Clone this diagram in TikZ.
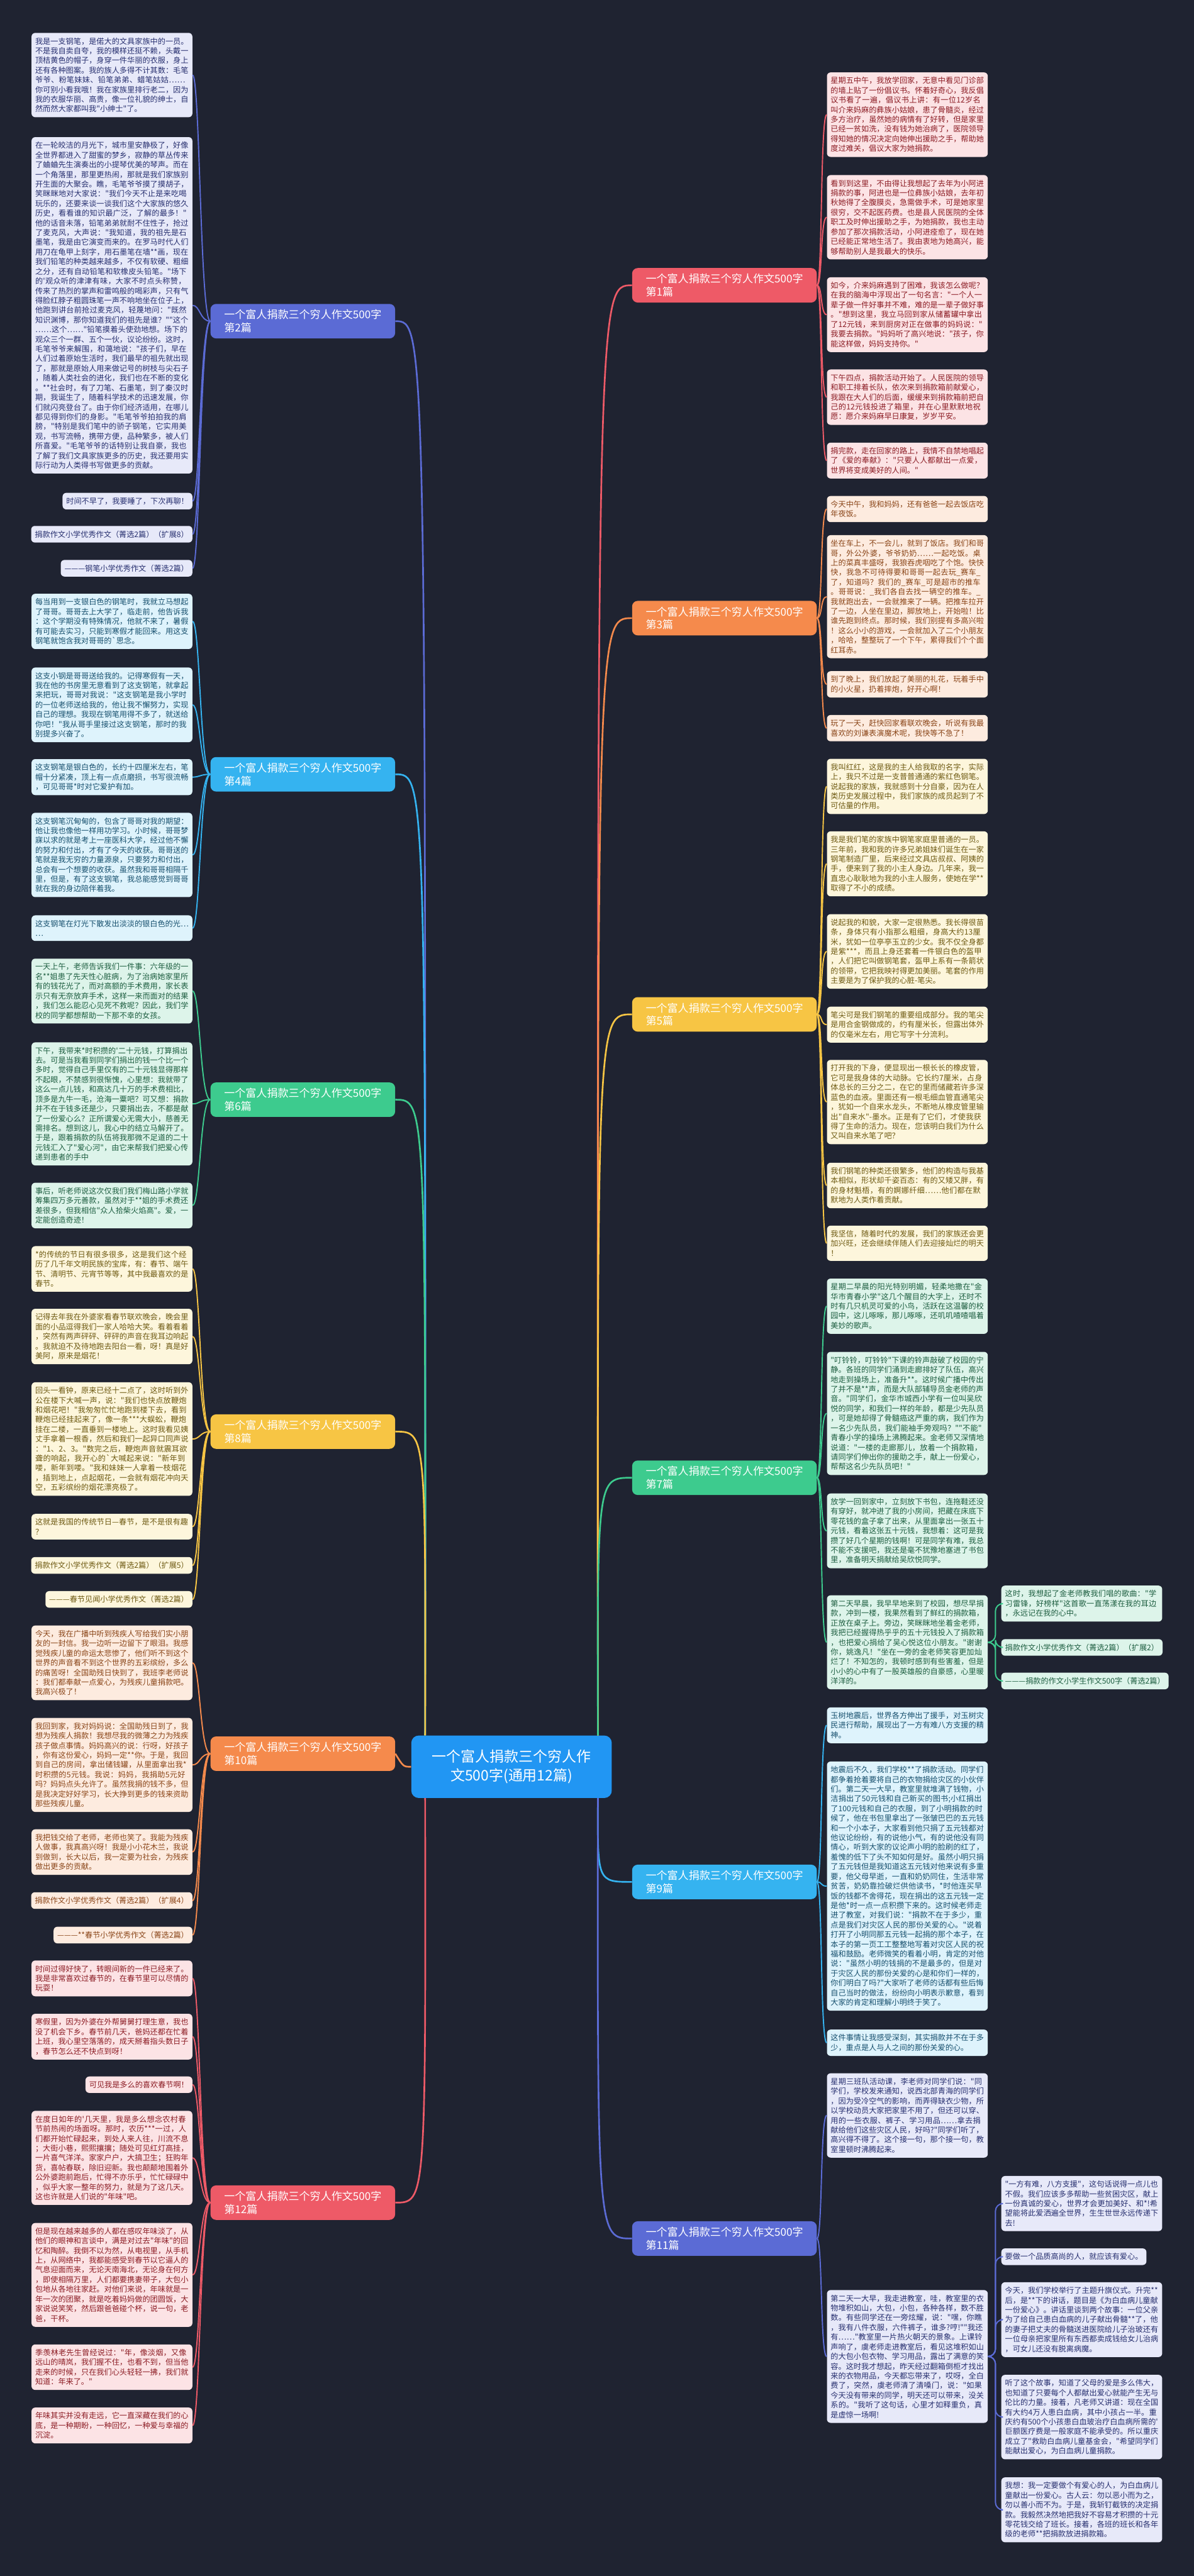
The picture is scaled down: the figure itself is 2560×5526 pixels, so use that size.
\documentclass[tikz,border=0pt]{standalone}
\usepackage{fontspec}
\setmainfont{Noto Sans CJK SC}[Ligatures=TeXOff]
% break between any two CJK characters, punctuation included
\XeTeXinterchartokenstate=1
\count255="2010
\loop
  \XeTeXcharclass\count255=10
  \ifnum\count255<"2027 \advance\count255 by 1 \repeat
\count255="3000
\loop
  \XeTeXcharclass\count255=10
  \ifnum\count255<"9FFF \advance\count255 by 1 \repeat
\count255="FF00
\loop
  \XeTeXcharclass\count255=10
  \ifnum\count255<"FFEF \advance\count255 by 1 \repeat
\XeTeXinterchartoks 10 10 = {\hskip0pt plus 1pt\relax}
\XeTeXinterchartoks 10 0 = {\hskip0pt plus 1pt\relax}
\XeTeXinterchartoks 0 10 = {\hskip0pt plus 1pt\relax}
\definecolor{bgdark}{HTML}{1F2331}
\definecolor{rootblue}{HTML}{2196F3}
\definecolor{redb}{HTML}{EE5A67}
\definecolor{violetb}{HTML}{5B6BD5}
\definecolor{orangeb}{HTML}{F58A4C}
\definecolor{cyanb}{HTML}{35B3F0}
\definecolor{yellowb}{HTML}{F7C544}
\definecolor{greenb}{HTML}{3DCB8E}
\definecolor{redf}{HTML}{FCE3E5}
\definecolor{violetf}{HTML}{E7E9F9}
\definecolor{orangef}{HTML}{FDEBDF}
\definecolor{cyanf}{HTML}{DEF3FC}
\definecolor{yellowf}{HTML}{FDF6DC}
\definecolor{greenf}{HTML}{DDF4EA}
\definecolor{redt}{HTML}{8C1C24}
\definecolor{violett}{HTML}{283070}
\definecolor{oranget}{HTML}{8A4518}
\definecolor{cyant}{HTML}{17506E}
\definecolor{yellowt}{HTML}{6E5A12}
\definecolor{greent}{HTML}{1D5E40}

\begin{document}
\begin{tikzpicture}[
  x=0.5pt, y=-0.5pt,
  box/.style={rounded corners=4pt, inner xsep=4pt, inner ysep=5pt, align=left,
              font=\fontsize{8.2pt}{10.4pt}\selectfont},
  para/.style={box, text width=164.5pt},
  redbox/.style={fill=redf, text=redt},
  violetbox/.style={fill=violetf, text=violett},
  orangebox/.style={fill=orangef, text=oranget},
  cyanbox/.style={fill=cyanf, text=cyant},
  yellowbox/.style={fill=yellowf, text=yellowt},
  greenbox/.style={fill=greenf, text=greent},
  branch/.style={rounded corners=6pt, text=white, inner xsep=8pt, minimum width=198pt,
                 minimum height=37pt, align=left, font=\fontsize{11.5pt}{14pt}\selectfont},
  link/.style={line width=1.3pt},
  trunk/.style={line width=1.8pt}
]
  \useasboundingbox (0,0) rectangle (2560,5526);
  \fill[bgdark] (0,0) rectangle (2560,5526);

  % root
  \node[fill=rootblue, text=white, rounded corners=8pt, minimum width=215pt, minimum height=67pt,
        align=center, font=\fontsize{15.5pt}{20pt}\selectfont] (root) at (1097,3790)
        {一个富人捐款三个穷人作\\文500字(通用12篇)};

  % branches
  \node[branch, fill=redb, anchor=east] (p1) at (1752,612) {一个富人捐款三个穷人作文500字\\第1篇};
  \node[branch, fill=violetb, anchor=west] (p2) at (451,689) {一个富人捐款三个穷人作文500字\\第2篇};
  \node[branch, fill=orangeb, anchor=east] (p3) at (1752,1326) {一个富人捐款三个穷人作文500字\\第3篇};
  \node[branch, fill=cyanb, anchor=west] (p4) at (451,1661) {一个富人捐款三个穷人作文500字\\第4篇};
  \node[branch, fill=yellowb, anchor=east] (p5) at (1752,2176) {一个富人捐款三个穷人作文500字\\第5篇};
  \node[branch, fill=greenb, anchor=west] (p6) at (451,2359) {一个富人捐款三个穷人作文500字\\第6篇};
  \node[branch, fill=greenb, anchor=east] (p7) at (1752,3170) {一个富人捐款三个穷人作文500字\\第7篇};
  \node[branch, fill=yellowb, anchor=west] (p8) at (451,3071) {一个富人捐款三个穷人作文500字\\第8篇};
  \node[branch, fill=cyanb, anchor=east] (p9) at (1752,4037) {一个富人捐款三个穷人作文500字\\第9篇};
  \node[branch, fill=orangeb, anchor=west] (p10) at (451,3762) {一个富人捐款三个穷人作文500字\\第10篇};
  \node[branch, fill=violetb, anchor=east] (p11) at (1752,4802) {一个富人捐款三个穷人作文500字\\第11篇};
  \node[branch, fill=redb, anchor=west] (p12) at (451,4725) {一个富人捐款三个穷人作文500字\\第12篇};

  \draw[trunk, redb] (root.20) .. controls (1281,612) .. (p1.west);
  \draw[trunk, orangeb] (root.20) .. controls (1281,1326) .. (p3.west);
  \draw[trunk, yellowb] (root.20) .. controls (1281,2176) .. (p5.west);
  \draw[trunk, greenb] (root.20) .. controls (1281,3170) .. (p7.west);
  \draw[trunk, cyanb] (root.-20) .. controls (1281,4037) .. (p9.west);
  \draw[trunk, violetb] (root.-20) .. controls (1281,4802) .. (p11.west);
  \draw[trunk, violetb] (root.160) .. controls (913,689) .. (p2.east);
  \draw[trunk, cyanb] (root.160) .. controls (913,1661) .. (p4.east);
  \draw[trunk, greenb] (root.160) .. controls (913,2359) .. (p6.east);
  \draw[trunk, yellowb] (root.160) .. controls (913,3071) .. (p8.east);
  \draw[trunk, orangeb] (root.west) .. controls (865,3790) .. (p10.east);
  \draw[trunk, redb] (root.200) .. controls (913,4725) .. (p12.east);

  % 第2篇
  \node[para, violetbox, anchor=east] (p2a) at (413,161) {我是一支钢笔，是偌大的文具家族中的一员。不是我自卖自夸，我的模样还挺不赖，头戴一顶桔黄色的帽子，身穿一件华丽的衣服，身上还有各种图案。我的族人多得不计其数：毛笔爷爷、粉笔妹妹、铅笔弟弟、蜡笔姑姑……你可别小看我哦！我在家族里排行老二，因为我的衣服华丽、高贵，像一位礼貌的绅士，自然而然大家都叫我"小绅士"了。};
  \node[para, violetbox, anchor=east] (p2b) at (413,655) {在一轮皎洁的月光下，城市里安静极了，好像全世界都进入了甜蜜的梦乡，寂静的草丛传来了蛐蛐先生演奏出的小提琴优美的琴声。而在一个角落里，那里更热闹，那就是我们家族别开生面的大聚会。瞧，毛笔爷爷摸了摸胡子，笑眯眯地对大家说："我们今天不止是来吃喝玩乐的，还要来谈一谈我们这个大家族的悠久历史，看看谁的知识最广泛，了解的最多！"他的话音未落，铅笔弟弟就耐不住性子，抢过了麦克风，大声说："我知道，我的祖先是石墨笔，我是由它演变而来的。在罗马时代人们用刀在龟甲上刻字，用石墨笔在墙**画，现在我们铅笔的种类越来越多，不仅有软硬、粗细之分，还有自动铅笔和软橡皮头铅笔。"场下的'观众听的津津有味，大家不时点头称赞，传来了热烈的掌声和雷鸣般的喝彩声，只有气得脸红脖子粗圆珠笔一声不响地坐在位子上，他跑到讲台前抢过麦克风，轻蔑地问："既然知识渊博，那你知道我们的祖先是谁？""这个……这个……"铅笔摸着头使劲地想。场下的观众三个一群、五个一伙，议论纷纷。这时，毛笔爷爷来解围，和蔼地说："孩子们，早在人们过着原始生活时，我们最早的祖先就出现了，那就是原始人用来做记号的树枝与尖石子，随着人类社会的进化，我们也在不断的变化。**社会时，有了刀笔、石墨笔，到了秦汉时期，我诞生了，随着科学技术的迅速发展，你们就闪亮登台了。由于你们经济适用，在哪儿都见得到你们的身影。"毛笔爷爷拍拍我的肩膀，"特别是我们笔中的骄子钢笔，它实用美观，书写流畅，携带方便，品种繁多，被人们所喜爱。"毛笔爷爷的话特别让我自豪，我也了解了我们文具家族更多的历史，我还要用实际行动为人类得书写做更多的贡献。};
  \node[box, violetbox, anchor=east] (p2c) at (413,1075) {时间不早了，我要睡了，下次再聊！};
  \node[box, violetbox, anchor=east] (p2d) at (413,1146) {捐款作文小学优秀作文（菁选2篇）（扩展8）};
  \node[box, violetbox, anchor=east] (p2e) at (413,1219) {———钢笔小学优秀作文（菁选2篇）};
  \foreach \b in {p2a,p2b,p2c,p2d,p2e}
    \draw[link, violetb] (p2.west) .. controls +(-22,0) and +(16,0) .. (\b.east);

  % 第4篇
  \node[para, cyanbox, anchor=east] (p4a) at (413,1333) {每当用到一支银白色的钢笔时，我就立马想起了哥哥。哥哥去上大学了，临走前，他告诉我：这个学期没有特殊情况，他就不来了，暑假有可能去实习，只能到寒假才能回来。用这支钢笔就饱含我对哥哥的`思念。};
  \node[para, cyanbox, anchor=east] (p4b) at (413,1512) {这支小钢是哥哥送给我的。记得寒假有一天，我在他的书房里无意看到了这支钢笔，就拿起来把玩，哥哥对我说："这支钢笔是我小学时的一位老师送给我的，他让我不懈努力，实现自己的理想。我现在钢笔用得不多了，就送给你吧！"我从哥手里接过这支钢笔，那时的我别提多兴奋了。};
  \node[para, cyanbox, anchor=east] (p4c) at (413,1667) {这支钢笔是银白色的，长约十四厘米左右，笔帽十分紧凑，顶上有一点点磨损，书写很流畅，可见哥哥*时对它爱护有加。};
  \node[para, cyanbox, anchor=east] (p4d) at (413,1834) {这支钢笔沉甸甸的，包含了哥哥对我的期望：他让我也像他一样用功学习。小时候，哥哥梦寐以求的就是考上一座医科大学，经过他不懈的努力和付出，才有了今天的收获。哥哥送的笔就是我无穷的力量源泉，只要努力和付出，总会有一个想要的收获。虽然我和哥哥相隔千里，但是，有了这支钢笔，我总能感觉到哥哥就在我的身边陪伴着我。};
  \node[para, cyanbox, anchor=east] (p4e) at (413,1991) {这支钢笔在灯光下散发出淡淡的银白色的光……};
  \foreach \b in {p4a,p4b,p4c,p4d,p4e}
    \draw[link, cyanb] (p4.west) .. controls +(-22,0) and +(16,0) .. (\b.east);

  % 第6篇
  \node[para, greenbox, anchor=east] (p6a) at (413,2126) {一天上午，老师告诉我们一件事：六年级的一名**姐患了先天性心脏病，为了治病她家里所有的钱花光了，而对高额的手术费用，家长表示只有无奈放弃手术，这样一来而面对的结果，我们怎么能忍心见死不救呢？因此，我们学校的同学都想帮助一下那不幸的女孩。};
  \node[para, greenbox, anchor=east] (p6b) at (413,2368) {下午，我带来*时积攒的'二十元钱，打算捐出去。可是当我看到同学们捐出的钱一个比一个多时，觉得自己手里仅有的二十元钱显得那样不起眼，不禁感到很惭愧，心里想：我就带了这么一点儿钱，和高达几十万的手术费相比，顶多是九牛一毛，沧海一粟吧？可又想：捐款并不在于钱多还是少，只要捐出去，不都是献了一份爱心么？正所谓爱心无需大小，慈善无需排名。想到这儿，我心中的结立马解开了。于是，跟着捐款的队伍将我那微不足道的二十元钱汇入了"爱心河"，由它来帮我们把爱心传递到患者的手中};
  \node[para, greenbox, anchor=east] (p6c) at (413,2586) {事后，听老师说这次仅我们我们梅山路小学就筹集四万多元善款，虽然对于**姐的手术费还差很多，但我相信"众人拾柴火焰高"。爱，一定能创造奇迹！};
  \foreach \b in {p6a,p6b,p6c}
    \draw[link, greenb] (p6.west) .. controls +(-22,0) and +(16,0) .. (\b.east);

  % 第8篇
  \node[para, yellowbox, anchor=east] (p8a) at (413,2722) {*的传统的节日有很多很多，这是我们这个经历了几千年文明民族的宝库，有：春节、端午节、清明节、元宵节等等，其中我最喜欢的是春节。};
  \node[para, yellowbox, anchor=east] (p8b) at (413,2867) {记得去年我在外婆家看春节联欢晚会，晚会里面的小品逗得我们一家人哈哈大笑。看着看着，突然有两声砰砰、砰砰的声音在我耳边响起。我就迫不及待地跑去阳台一看，呀！真是好美阿，原来是烟花！};
  \node[para, yellowbox, anchor=east] (p8c) at (413,3087) {回头一看钟，原来已经十二点了，这时听到外公在楼下大喊一声，说："我们也快点放鞭炮和烟花吧！"我匆匆忙忙地跑到楼下去，看到鞭炮已经挂起来了，像一条***大蜈蚣，鞭炮挂在二楼，一直垂到一楼地上。这时我看见姨丈手拿着一根香，然后和我们一起异口同声说："1、2、3。"数完之后，鞭炮声音就震耳欲聋的响起，我开心的`大喊起来说："新年到喽，新年到喽。"我和妹妹一人拿着一枝烟花，插到地上，点起烟花，一会就有烟花冲向天空，五彩缤纷的烟花漂亮极了。};
  \node[para, yellowbox, anchor=east] (p8d) at (413,3275) {这就是我国的传统节日—春节，是不是很有趣？};
  \node[box, yellowbox, anchor=east] (p8e) at (413,3358) {捐款作文小学优秀作文（菁选2篇）（扩展5）};
  \node[box, yellowbox, anchor=east] (p8f) at (413,3431) {———春节见闻小学优秀作文（菁选2篇）};
  \foreach \b in {p8a,p8b,p8c,p8d,p8e,p8f}
    \draw[link, yellowb] (p8.west) .. controls +(-22,0) and +(16,0) .. (\b.east);

  % 第10篇
  \node[para, orangebox, anchor=east] (p10a) at (413,3567) {今天，我在广播中听到残疾人写给我们实小朋友的一封信。我一边听一边留下了眼泪。我感觉残疾儿童的命运太悲惨了，他们听不到这个世界的声音看不到这个世界的五彩缤纷，多么的痛苦呀！全国助残日快到了，我班李老师说：我们都奉献一点爱心，为残疾儿童捐款吧。我高兴极了！};
  \node[para, orangebox, anchor=east] (p10b) at (413,3786) {我回到家，我对妈妈说：全国助残日到了，我想为残疾人捐款！我想尽我的微薄之力为残疾孩子做点事情。妈妈高兴的说：行呀，好孩子，你有这份爱心，妈妈一定**你。于是，我回到自己的房间，拿出储钱罐，从里面拿出我*时积攒的5元钱。我说：妈妈，我捐助5元好吗？妈妈点头允许了。虽然我捐的钱不多，但是我决定好好学习，长大挣到更多的钱来资助那些残疾儿童。};
  \node[para, orangebox, anchor=east] (p10c) at (413,3973) {我把钱交给了老师，老师也笑了。我能为残疾人做事，我真高兴呀！我是小小花木兰，我说到做到，长大以后，我一定要为社会，为残疾做出更多的贡献。};
  \node[box, orangebox, anchor=east] (p10d) at (413,4077) {捐款作文小学优秀作文（菁选2篇）（扩展4）};
  \node[box, orangebox, anchor=east] (p10e) at (413,4151) {———**春节小学优秀作文（菁选2篇）};
  \foreach \b in {p10a,p10b,p10c,p10d,p10e}
    \draw[link, orangeb] (p10.west) .. controls +(-22,0) and +(16,0) .. (\b.east);

  % 第12篇
  \node[para, redbox, anchor=east] (p12a) at (413,4244) {时间过得好快了，转眼间新的一件已经来了。我是非常喜欢过春节的，在春节里可以尽情的玩耍！};
  \node[para, redbox, anchor=east] (p12b) at (413,4369) {寒假里，因为外婆在外帮舅舅打理生意，我也没了机会下乡。春节前几天，爸妈还都在忙着上班，我心里空落落的，成天掰着指头数日子，春节怎么还不快点到呀！};
  \node[box, redbox, anchor=east] (p12c) at (413,4472) {可见我是多么的喜欢春节啊！};
  \node[para, redbox, anchor=east] (p12d) at (413,4629) {在度日如年的'几天里，我是多么想念农村春节前热闹的场面呀。那时，农历***一过，人们都开始忙碌起来，到处人来人往，川流不息；大街小巷，熙熙攘攘；随处可见红灯高挂，一片喜气洋洋。家家户户，大搞卫生；狂购年货，喜帖春联，除旧迎新。我也颠颠地围着外公外婆跑前跑后，忙得不亦乐乎，忙忙碌碌中，似乎大家一整年的努力，就是为了这几天。这也许就是人们说的"年味"吧。};
  \node[para, redbox, anchor=east] (p12e) at (413,4880) {但是现在越来越多的人都在感叹年味淡了，从他们的眼神和言谈中，满是对过去"年味"的回忆和陶醉。我倒不以为然，从电视里，从手机上，从网络中，我都能感受到春节以它逼人的气息迎面而来，无论天南海北，无论身在何方，即使相隔万里，人们都要携妻带子，大包小包地从各地往家赶。对他们来说，年味就是一年一次的团聚，就是吃着妈妈做的团圆饭，大家说说笑笑，然后跟爸爸碰个杯，说一句，老爸，干杯。};
  \node[para, redbox, anchor=east] (p12f) at (413,5078) {季羡林老先生曾经说过："年，像淡烟，又像远山的晴岚，我们握不住，也看不到，但当他走来的时候，只在我们心头轻轻一拂，我们就知道：年来了。"};
  \node[para, redbox, anchor=east] (p12g) at (413,5203) {年味其实并没有走远，它一直深藏在我们的心底，是一种期盼，一种回忆，一种爱与幸福的沉淀。};
  \foreach \b in {p12a,p12b,p12c,p12d,p12e,p12f,p12g}
    \draw[link, redb] (p12.west) .. controls +(-22,0) and +(16,0) .. (\b.east);

  % 第1篇
  \node[para, redbox, anchor=west] (p1a) at (1773,246) {星期五中午，我放学回家，无意中看见门诊部的墙上贴了一份倡议书。怀着好奇心，我反倡议书看了一遍，倡议书上讲：有一位12岁名叫介来妈麻的彝族小姑娘，患了骨髓炎，经过多方治疗，虽然她的病情有了好转，但是家里已经一贫如洗，没有钱为她治病了，医院领导得知她的情况决定向她伸出援助之手，帮助她度过难关，倡议大家为她捐款。};
  \node[para, redbox, anchor=west] (p1b) at (1773,466) {看到到这里，不由得让我想起了去年为小阿进捐款的事，阿进也是一位彝族小姑娘，去年初秋她得了全腹膜炎，急需做手术，可是她家里很穷，交不起医药费。也是县人民医院的全体职工及时伸出援助之手，为她捐款，我也主动参加了那次捐款活动，小阿进痊愈了，现在她已经能正常地生活了。我由衷地为她高兴，能够帮助别人是我最大的快乐。};
  \node[para, redbox, anchor=west] (p1c) at (1773,675) {如今，介来妈麻遇到了困难，我该怎么做呢？在我的脑海中浮现出了一句名言："一个人一辈子做一件好事并不难，难的是一辈子做好事。"想到这里，我立马回到家从储蓄罐中拿出了12元钱，来到厨房对正在做事的妈妈说："我要去捐款。"妈妈听了高兴地说："孩子，你能这样做，妈妈支持你。"};
  \node[para, redbox, anchor=west] (p1d) at (1773,852) {下午四点，捐款活动开始了。人民医院的领导和职工排着长队，依次来到捐款箱前献爱心，我跟在大人们的后面，缓缓来到捐款箱前把自己的12元钱投进了箱里，并在心里默默地祝愿：愿介来妈麻早日康复，岁岁平安。};
  \node[para, redbox, anchor=west] (p1e) at (1773,988) {捐完款，走在回家的路上，我情不自禁地唱起了《爱的奉献》："只要人人都献出一点爱，世界将变成美好的人间。"};
  \foreach \b in {p1a,p1b,p1c,p1d,p1e}
    \draw[link, redb] (p1.east) .. controls +(12,0) and +(-14,0) .. (\b.west);

  % 第3篇
  \node[para, orangebox, anchor=west] (p3a) at (1773,1092) {今天中午，我和妈妈，还有爸爸一起去饭店吃年夜饭。};
  \node[para, orangebox, anchor=west] (p3b) at (1773,1280) {坐在车上，不一会儿，就到了饭店。我们和哥哥，外公外婆，爷爷奶奶……一起吃饭。桌上的菜真丰盛呀，我狼吞虎咽吃了个饱。快快快，我急不可待得要和哥哥一起去玩\_赛车\_了，知道吗？我们的\_赛车\_可是超市的推车。哥哥说：\_我们各自去找一辆空的推车。\_我就跑出去，一会就推来了一辆。把推车拉开了一边，人坐在里边，脚放地上，开始啦！比谁先跑到终点。那时候，我们别提有多高兴啦！这么小小的游戏，一会就加入了二个小朋友，哈哈，整整玩了一个下午，累得我们个个面红耳赤。};
  \node[para, orangebox, anchor=west] (p3c) at (1773,1468) {到了晚上，我们放起了美丽的礼花，玩着手中的小火星，扔着摔炮，好开心啊！};
  \node[para, orangebox, anchor=west] (p3d) at (1773,1562) {玩了一天，赶快回家看联欢晚会，听说有我最喜欢的刘谦表演魔术呢，我快等不急了！};
  \foreach \b in {p3a,p3b,p3c,p3d}
    \draw[link, orangeb] (p3.east) .. controls +(12,0) and +(-14,0) .. (\b.west);

  % 第5篇
  \node[para, yellowbox, anchor=west] (p5a) at (1773,1687) {我叫红红，这是我的主人给我取的名字，实际上，我只不过是一支普普通通的紫红色钢笔。说起我的家族，我就感到十分自豪，因为在人类历史发展过程中，我们家族的成员起到了不可估量的作用。};
  \node[para, yellowbox, anchor=west] (p5b) at (1773,1853) {我是我们笔的家族中钢笔家庭里普通的一员。三年前，我和我的许多兄弟姐妹们诞生在一家钢笔制造厂里，后来经过文具店叔叔、阿姨的手，便来到了我的小主人身边。几年来，我一直忠心耿耿地为我的小主人服务，使她在学**取得了不小的成绩。};
  \node[para, yellowbox, anchor=west] (p5c) at (1773,2041) {说起我的和貌，大家一定很熟悉。我长得很苗条，身体只有小指那么粗细，身高大约13厘米，犹如一位亭亭玉立的少女。我不仅全身都是紫***，而且上身还套着一件银白色的盔甲，人们把它叫做钢笔套，盔甲上系有一条箭状的领带，它把我映衬得更加美丽。笔套的作用主要是为了保护我的心脏-笔尖。};
  \node[para, yellowbox, anchor=west] (p5d) at (1773,2198) {笔尖可是我们钢笔的重要组成部分。我的笔尖是用合金钢做成的，约有厘米长，但露出体外的仅毫米左右，用它写字十分流利。};
  \node[para, yellowbox, anchor=west] (p5e) at (1773,2364) {打开我的下身，便显现出一根长长的橡皮管，它可是我身体的大动脉。它长约7厘米，占身体总长的三分之二，在它的里而储藏若许多深蓝色的血液。里面还有一根毛细血管直通笔尖，犹如一个自来水龙头，不断地从橡皮管里输出"自来水"-墨水。正是有了它们，才使我获得了生命的活力。现在，您该明白我们为什么又叫自来水笔了吧？};
  \node[para, yellowbox, anchor=west] (p5f) at (1773,2543) {我们钢笔的种类还很繁多，他们的构造与我基本相似，形状却千姿百态：有的又矮又胖，有的身材魁梧，有的婀娜纤细……他们都在默默地为人类作着贡献。};
  \node[para, yellowbox, anchor=west] (p5g) at (1773,2667) {我坚信，随着时代的发展，我们的家族还会更加兴旺，还会继续伴随人们去迎接灿烂的明天！};
  \foreach \b in {p5a,p5b,p5c,p5d,p5e,p5f,p5g}
    \draw[link, yellowb] (p5.east) .. controls +(12,0) and +(-14,0) .. (\b.west);

  % 第7篇
  \node[para, greenbox, anchor=west] (p7a) at (1773,2802) {星期二早晨的阳光特别明媚，轻柔地撒在"金华市青春小学"这几个醒目的大字上，还时不时有几只机灵可爱的小鸟，活跃在这温馨的校园中，这儿啄啄，那儿啄啄，还叽叽喳喳唱着美妙的歌声。};
  \node[para, greenbox, anchor=west] (p7b) at (1773,3032) {"叮铃铃，叮铃铃"下课的铃声敲破了校园的宁静。各班的同学们涌到走廊排好了队伍，高兴地走到操场上，准备升**。这时候广播中传出了并不是**声，而是大队部辅导员金老师的声音。"同学们，金华市城西小学有一位叫吴欣悦的同学，和我们一样的年龄，都是少先队员，可是她却得了骨髓癌这严重的病，我们作为一名少先队员，我们能袖手旁观吗？""不能"青春小学的操场上沸腾起来。金老师又深情地说道："一楼的走廊那儿，放着一个捐款箱，请同学们伸出你的援助之手，献上一份爱心，帮帮这名少先队员吧！"};
  \node[para, greenbox, anchor=west] (p7c) at (1773,3284) {放学一回到家中，立刻放下书包，连拖鞋还没有穿好，就冲进了我的小房间，把藏在床底下零花钱的盒子拿了出来，从里面拿出一张五十元钱，看着这张五十元钱，我想着：这可是我攒了好几个星期的钱啊！可是同学有难，我总不能不支援吧，我还是毫不犹豫地塞进了书包里，准备明天捐献给吴欣悦同学。};
  \node[para, greenbox, anchor=west] (p7d) at (1773,3523) {第二天早晨，我早早地来到了校园，想尽早捐款，冲到一楼，我果然看到了鲜红的捐款箱，正放在桌子上。旁边，笑眯眯地坐着金老师，我把已经握得热乎乎的五十元钱投入了捐款箱，也把爱心捐给了吴心悦这位小朋友。"谢谢你，姚逸凡！"坐在一旁的金老师笑容更加灿烂了！不知怎的，我顿时感到有些害羞，但是小小的心中有了一股英雄般的自豪感，心里暖洋洋的。};
  \node[para, greenbox, anchor=west] (p7e) at (2147,3440) {这时，我想起了金老师教我们唱的歌曲："学习雷锋，好榜样"这首歌一直荡漾在我的耳边，永远记在我的心中。};
  \node[box, greenbox, anchor=west] (p7f) at (2147,3534) {捐款作文小学优秀作文（菁选2篇）（扩展2）};
  \node[box, greenbox, anchor=west] (p7g) at (2147,3606) {———捐款的作文小学生作文500字（菁选2篇）};
  \foreach \b in {p7a,p7b,p7c,p7d}
    \draw[link, greenb] (p7.east) .. controls +(12,0) and +(-14,0) .. (\b.west);
  \foreach \b in {p7e,p7f,p7g}
    \draw[link, greenb, rounded corners=8pt] (p7d.east) -- ++(16,0) |- (\b.west);

  % 第9篇
  \node[para, cyanbox, anchor=west] (p9a) at (1773,3701) {玉树地震后，世界各方伸出了援手，对玉树灾民进行帮助，展现出了一方有难八方支援的精神。};
  \node[para, cyanbox, anchor=west] (p9b) at (1773,4046) {地震后不久，我们学校**了捐款活动。同学们都争着抢着要将自己的衣物捐给灾区的小伙伴们。第二天一大早，教室里就堆满了钱物，小洁捐出了50元钱和自己新买的图书;小红捐出了100元钱和自己的衣服，到了小明捐款的时候了，他在书包里拿出了一张皱巴巴的五元钱和一个小本子，大家看到他只捐了五元钱都对他议论纷纷，有的说他小气，有的说他没有同情心，听到大家的议论声小明的脸刷的红了，羞愧的低下了头不知如何是好。虽然小明只捐了五元钱但是我知道这五元钱对他来说有多重要，他父母早逝，一直和奶奶同住，生活非常贫苦，奶奶靠捡破烂供他读书，*时他连买早饭的钱都不舍得花，现在捐出的这五元钱一定是他*时一点一点积攒下来的。这时候老师走进了教室，对我们说："捐款不在于多少，重点是我们对灾区人民的那份关爱的心。"说着打开了小明同那五元钱一起捐的那个本子，在本子的第一页工工整整地写着对灾区人民的祝福和鼓励。老师微笑的看着小明，肯定的对他说："虽然小明的钱捐的不是最多的，但是对于灾区人民的那份关爱的心是和你们一样的，你们明白了吗?"大家听了老师的话都有些后悔自己当时的做法，纷纷向小明表示歉意，看到大家的肯定和理解小明终于笑了。};
  \node[para, cyanbox, anchor=west] (p9c) at (1773,4382) {这件事情让我感受深刻，其实捐款并不在于多少，重点是人与人之间的那份关爱的心。};
  \foreach \b in {p9a,p9b,p9c}
    \draw[link, cyanb] (p9.east) .. controls +(12,0) and +(-14,0) .. (\b.west);

  % 第11篇
  \node[para, violetbox, anchor=west] (p11a) at (1773,4538) {星期三班队活动课，李老师对同学们说："同学们，学校发来通知，说西北部青海的同学们，因为受冷空气的影响，而弄得缺衣少物，所以学校动员大家把家里不用了，但还可以穿、用的一些衣服、裤子、学习用品……拿去捐献给他们这些灾区人民，好吗?"同学们听了，高兴得不得了。这个接一句，那个接一句，教室里顿时沸腾起来。};
  \node[para, violetbox, anchor=west] (p11b) at (1773,5055) {第二天一大早，我走进教室，哇，教室里的衣物堆积如山，大包，小包，各种各样，数不胜数。有些同学还在一旁炫耀，说："嘿，你瞧，我有八件衣服，六件裤子，谁多?哼!""我还有……"教室里一片热火朝天的景象。上课铃声响了，虞老师走进教室后，看见这堆积如山的大包小包衣物、学习用品，露出了满意的笑容。这时我才想起，昨天经过翻箱倒柜才找出来的衣物用品，今天都忘带来了，哎呀，全白费了，突然，虞老师清了清嗓门，说："如果今天没有带来的同学，明天还可以带来，没关系的。"我听了这句话，心里才如释重负，真是虚惊一场啊!};
  \node[para, violetbox, anchor=west] (p11c) at (2147,4727) {"一方有难，八方支援"，这句话说得一点儿也不假。我们应该多多帮助一些贫困灾区，献上一份真诚的爱心，世界才会更加美好、和*!希望能将此爱洒遍全世界，生生世世永远传递下去!};
  \node[box, violetbox, anchor=west] (p11d) at (2147,4841) {要做一个品质高尚的人，就应该有爱心。};
  \node[para, violetbox, anchor=west] (p11e) at (2147,4976) {今天，我们学校举行了主题升旗仪式。升完**后，是**下的讲话，题目是《为白血病儿童献一份爱心》。讲话里谈到两个故事：一位父亲为了给自己患白血病的儿子献出骨髓**了，他的妻子把丈夫的骨髓送进医院给儿子治玻还有一位母亲把家里所有东西都卖成钱给女儿治病，可女儿还没有脱离病魔。};
  \node[para, violetbox, anchor=west] (p11f) at (2147,5185) {听了这个故事，知道了父母的爱是多么伟大，也知道了只要每个人都献出爱心就能产生无与伦比的力量。接着，凡老师又讲道：现在全国有大约4万人患白血病，其中小孩占一半。重庆约有500个小孩患白血玻治疗白血病所需的'巨额医疗费是一般家庭不能承受的。所以重庆成立了"救助白血病儿童基金会，"希望同学们能献出爱心，为白血病儿童捐款。};
  \node[para, violetbox, anchor=west] (p11g) at (2147,5384) {我想：我一定要做个有爱心的人，为白血病儿童献出一份爱心。古人云：勿以恶小而为之，勿以善小而不为。于是，我斩钉截铁的决定捐款。我毅然决然地把我好不容易才积攒的十元零花钱交给了班长。接着，各班的班长和各年级的老师**把捐款放进捐款箱。};
  \foreach \b in {p11a,p11b}
    \draw[link, violetb] (p11.east) .. controls +(12,0) and +(-14,0) .. (\b.west);
  \foreach \b in {p11c,p11d,p11e,p11f,p11g}
    \draw[link, violetb, rounded corners=8pt] (p11b.east) -- ++(16,0) |- (\b.west);
\end{tikzpicture}
\end{document}
